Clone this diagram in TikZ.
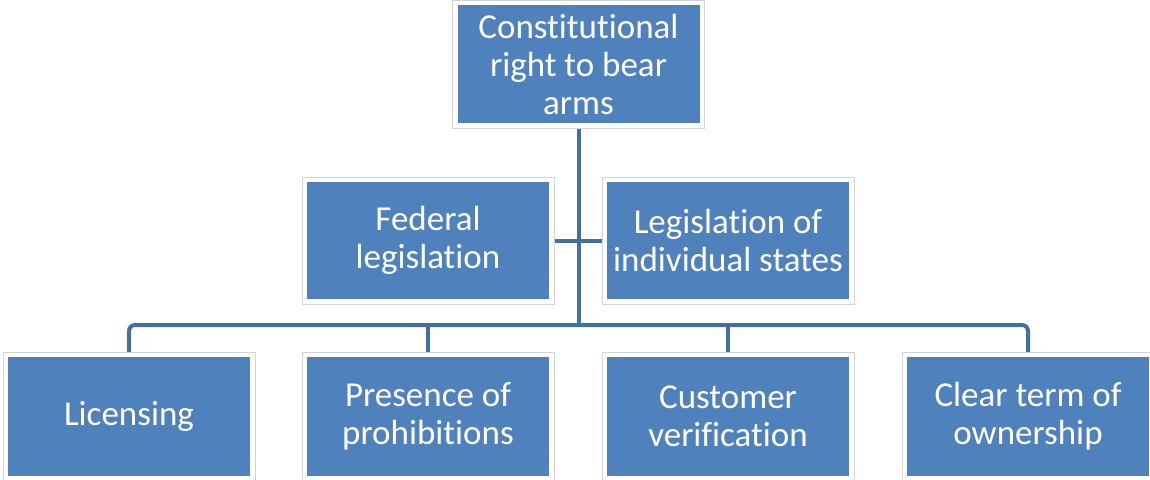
\documentclass[tikz,border=0pt]{standalone}
\usepackage{fontspec}
\setmainfont{Carlito}[Ligatures={NoCommon,NoContextual}]
\usetikzlibrary{backgrounds}
\definecolor{boxblue}{HTML}{4F81BD}
\definecolor{linkblue}{HTML}{41719C}
\definecolor{framegrey}{HTML}{D4D4D4}
\begin{document}
\begin{tikzpicture}[x=1pt,y=-1pt,
  box/.style={rectangle, fill=boxblue, text=white, align=center, inner sep=0pt,
    minimum width=242pt, minimum height=118pt,
    font=\fontsize{35}{38}\selectfont,
    preaction={draw=framegrey, fill=none, line width=11pt},
    preaction={draw=white, fill=none, line width=9pt}},
  link/.style={draw=linkblue, line width=4pt}]
\useasboundingbox (0,0) rectangle (1150,479);
\node[box] (top) at (578.5,64) {Constitutional\\right to bear\\arms};
\node[box, minimum height=117pt] (fed) at (428,240.5) {Federal\\legislation};
\node[box, minimum height=117pt] (states) at (728,240.5) {Legislation of\\individual states};
\node[box, minimum height=119pt] (lic) at (129,416.5) {Licensing};
\node[box, minimum height=119pt] (pres) at (428,416.5) {Presence of\\prohibitions};
\node[box, minimum height=119pt] (cust) at (728,416.5) {Customer\\verification};
\node[box, minimum height=119pt] (clear) at (1028,416.5) {Clear term of\\ownership};
\coordinate (bus) at (578.5,325);
\begin{scope}[on background layer]
\draw[link] (top.south) -- (bus);
\draw[link] (fed.east) -- (states.west);
\draw[link, rounded corners=6pt] (lic.north) -- (lic.north |- bus) -- (clear.north |- bus) -- (clear.north);
\draw[link] (pres.north) -- (pres.north |- bus);
\draw[link] (cust.north) -- (cust.north |- bus);
\end{scope}
\end{tikzpicture}
\end{document}
